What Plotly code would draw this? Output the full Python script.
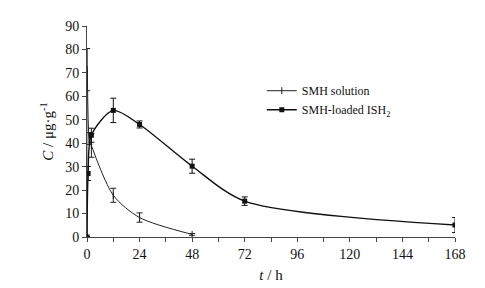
import plotly.graph_objects as go

# SMH solution
t_sol = [0, 0.083, 1, 2, 12, 24, 48]
c_sol = [0, 71.4, 42.0, 39.0, 17.8, 8.3, 1.1]
e_sol = [0, 9.0, 2.5, 5.0, 3.0, 2.0, 0.4]

# SMH-loaded ISH2
t_ish = [0, 0.5, 2, 12, 24, 48, 72, 168]
c_ish = [0, 27.1, 43.4, 54.0, 48.0, 30.2, 15.3, 5.1]
e_ish = [0, 3.0, 3.0, 5.2, 1.5, 3.0, 1.8, 3.2]

x_ticks = [0, 24, 48, 72, 96, 120, 144, 168]
y_ticks = [0, 10, 20, 30, 40, 50, 60, 70, 80, 90]

FONT = "Liberation Serif"

fig = go.Figure()
fig.add_trace(go.Scatter(
    x=t_sol, y=c_sol, name="SMH solution", mode="lines+markers",
    line=dict(color="#222", width=1, shape="spline", smoothing=0.8),
    marker=dict(symbol="line-ns-open", size=5, color="#222", line=dict(width=1, color="#222")),
    error_y=dict(type="data", array=e_sol, color="#222", thickness=1, width=3),
))
fig.add_trace(go.Scatter(
    x=t_ish, y=c_ish, name="SMH-loaded ISH<sub>2</sub>", mode="lines+markers",
    line=dict(color="#111", width=1.4, shape="spline", smoothing=0.8),
    marker=dict(symbol="square", size=5, color="#111"),
    error_y=dict(type="data", array=e_ish, color="#111", thickness=1, width=3),
))

fig.update_layout(
    width=485, height=288,
    margin=dict(l=79, r=38, t=18, b=59, autoexpand=False),
    paper_bgcolor="white", plot_bgcolor="white",
    font=dict(family=FONT, size=14, color="#111"),
    showlegend=True,
    legend=dict(x=0.475, y=0.762, xanchor="left", yanchor="top",
                font=dict(family=FONT, size=12, color="#111"),
                bgcolor="rgba(0,0,0,0)", itemwidth=30, tracegroupgap=2),
    xaxis=dict(
        range=[0, 168], tickvals=x_ticks, ticktext=[str(v) for v in x_ticks],
        automargin=False,
        showline=True, linecolor="#444", linewidth=1, ticks="outside",
        ticklen=4, tickcolor="#444", showgrid=False, zeroline=False,
        tickfont=dict(family=FONT, size=14),
        minor=dict(dtick=12, ticks="outside", ticklen=4, tickcolor="#444", showgrid=False),
        title=dict(text="<i>t</i> / h", font=dict(family=FONT, size=15), standoff=8),
    ),
    yaxis=dict(
        range=[0, 90], tickvals=y_ticks, ticktext=[str(v) for v in y_ticks],
        automargin=False,
        showline=True, linecolor="#444", linewidth=1, ticks="outside",
        ticklen=4, tickcolor="#444", showgrid=False, zeroline=False,
        tickfont=dict(family=FONT, size=14),
        title=dict(text="<i>C</i> / μg·g<sup>-1</sup>", font=dict(family=FONT, size=15), standoff=7),
    ),
)

fig.write_html("out.html")
